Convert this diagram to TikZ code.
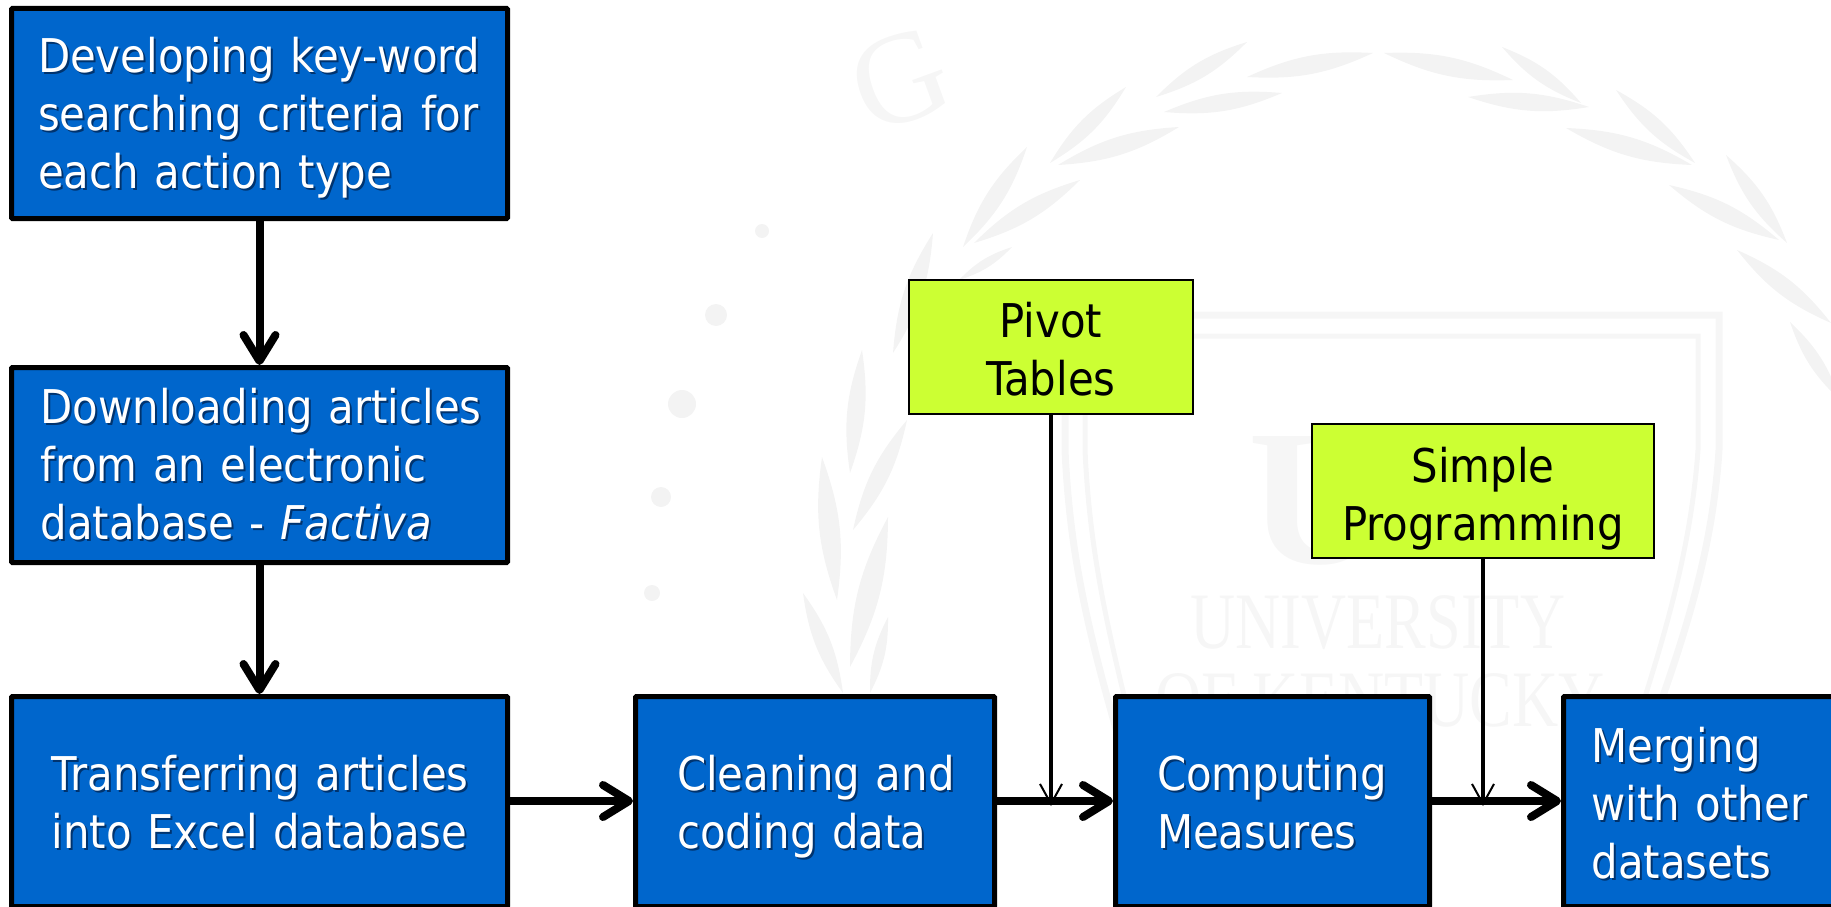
\documentclass[tikz,border=0pt]{standalone}
\usepackage{fontspec}
\usepackage{xcolor}
\usepackage{tikz}
\usetikzlibrary{arrows.meta, positioning, calc}
\setmainfont{DejaVu Sans Condensed}
\newfontfamily\sealfont{Liberation Serif}
\definecolor{boxblue}{HTML}{0066CC}
\definecolor{toolgreen}{HTML}{CCFF33}
\definecolor{txtshade}{HTML}{00336E}
\definecolor{sealgray}{HTML}{F3F3F3}
\definecolor{sealpale}{HTML}{F6F6F6}
\newcommand{\shtext}[1]{\mbox{\rlap{\kern2pt\raisebox{-2pt}{\color{txtshade}#1}}#1}}
\newcommand{\toppad}[1]{\rule{0pt}{#1pt}}
\tikzset{
    bluebox/.style={draw=black, fill=boxblue, line width=5pt, anchor=north west, align=left, inner ysep=0pt, rounded corners=1pt, text=white, font=\fontsize{46.5}{58}\selectfont},
    toolbox/.style={draw=black, fill=toolgreen, line width=2pt, anchor=north west, align=center, minimum width=284pt, minimum height=134pt, inner sep=0pt, text=black, font=\fontsize{46.5}{58}\selectfont},
    flowarrow/.style={line width=8pt, -{Straight Barb[length=26pt,width=32pt,round]}},
    feedarrow/.style={line width=4pt, -{Straight Barb[length=20pt,width=22pt,line width=2pt]}},
    sealtext/.style={text=sealpale, font=\sealfont\fontsize{80}{80}\selectfont, inner sep=0pt}
}
\begin{document}
\begin{tikzpicture}[x=1pt, y=-1pt]
    \useasboundingbox (0,0) rectangle (1831,907);
    % Seal behind the chart
    \foreach \xa/\ya/\xb/\yb in {1373/53/1247/77, 1247/42/1156/97, 1282/93/1164/112, 1126/87/1050/163, 1179/127/1058/165,
        1027/147/963/247, 1080/180/974/243, 1012/247/959/280, 933/233/893/353, 862/350/850/473, 907/420/853/530,
        822/457/837/600, 888/517/850/667, 803/593/843/693, 888/617/870/693,
        1384/53/1513/80, 1502/47/1581/103, 1468/97/1589/107, 1616/90/1695/163, 1566/128/1692/165,
        1726/155/1787/243, 1669/185/1779/240, 1737/250/1831/323, 1790/322/1840/400}
        \fill[sealgray] (\xa,\ya) to[bend left=14] (\xb,\yb) to[bend left=14] (\xa,\ya);
    \foreach \xa/\ya/\ra in {762/231/7, 716/315/11, 682/404/14, 661/497/10, 652/593/8}
        \fill[sealgray] (\xa,\ya) circle (\ra);
    \draw[sealpale, line width=7pt] (1065,315) -- (1719,315) -- (1719,450) .. controls (1712,560) and (1680,650) .. (1640,760);
    \draw[sealpale, line width=7pt] (1065,315) -- (1065,450) .. controls (1070,560) and (1090,640) .. (1125,760);
    \draw[sealpale, line width=5pt] (1085,336) -- (1698,336) -- (1698,450) .. controls (1690,560) and (1660,650) .. (1625,760);
    \draw[sealpale, line width=5pt] (1085,336) -- (1085,450) .. controls (1090,560) and (1110,640) .. (1140,760);
    \node[sealtext, rotate=20] (sealg) at (900,80) {\fontsize{130}{130}\selectfont G};
    \node[sealtext, anchor=base west] (sealu) at (1248,563) {\fontsize{194}{194}\selectfont\bfseries U};
    \node[sealtext, xscale=.78] (sealuni) at (1378,623) {UNIVERSITY};
    \node[sealtext, xscale=.8] (sealken) at (1380,700) {OF KENTUCKY};
    % Main steps
    \node[bluebox, text width=443pt, inner xsep=26.5pt, minimum height=210pt] (develop) at (9,6)
        {\toppad{46}\shtext{Developing key-word}\\\shtext{searching criteria for}\\\shtext{each action type}};
    \node[bluebox, text width=438pt, inner xsep=29pt, minimum height=195pt] (download) at (9,365)
        {\shtext{Downloading articles}\\\shtext{from an electronic}\\\shtext{database - \textit{Factiva}}};
    \node[bluebox, text width=416pt, inner xsep=40pt, minimum height=210pt] (transfer) at (9,694)
        {\toppad{38}\shtext{Transferring articles}\\\shtext{into Excel database}};
    \node[bluebox, text width=276pt, inner xsep=41.5pt, minimum height=210pt] (clean) at (633,694)
        {\toppad{48}\shtext{Cleaning and}\\\shtext{coding data}};
    \node[bluebox, text width=231pt, inner xsep=41.5pt, minimum height=210pt] (compute) at (1113,694)
        {\toppad{38}\shtext{Computing}\\\shtext{Measures}};
    \node[bluebox, text width=216pt, inner xsep=28pt, minimum height=210pt] (merge) at (1561,694)
        {\toppad{40}\shtext{Merging}\\\shtext{with other}\\\shtext{datasets}};
    % Tools
    \node[toolbox] (pivot) at (908,279) {\toppad{40}Pivot\\Tables};
    \node[toolbox, minimum width=342pt] (simple) at (1311,423) {\toppad{50}Simple\\Programming};
    % Flow
    \draw[flowarrow] (develop) -- (download);
    \draw[flowarrow] (download) -- (transfer);
    \draw[flowarrow] (transfer.east |- 0,801) -- (clean.west |- 0,801);
    \draw[flowarrow] (clean.east |- 0,801) -- (compute.west |- 0,801);
    \draw[flowarrow] (compute.east |- 0,801) -- (merge.west |- 0,801);
    \coordinate (pivotend) at (pivot.south |- 0,806);
    \coordinate (simpleend) at (simple.south |- 0,806);
    \draw[feedarrow] (pivot) -- (pivotend);
    \draw[feedarrow] (simple) -- (simpleend);
\end{tikzpicture}
\end{document}
